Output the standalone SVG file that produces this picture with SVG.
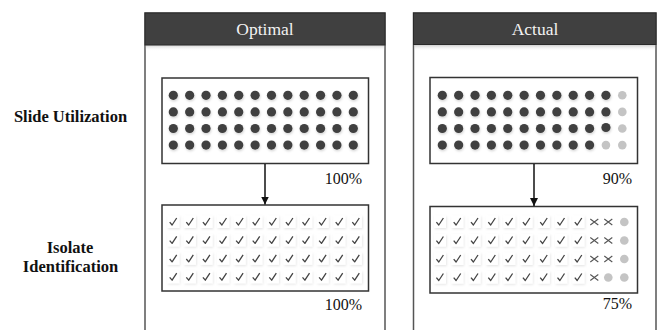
<svg xmlns="http://www.w3.org/2000/svg" width="661" height="330" viewBox="0 0 661 330" font-family="'Liberation Serif', 'Times New Roman', serif">
  <style>
    .row-label { font-family: "Liberation Serif", "Times New Roman", serif; font-size: 16.5px; font-weight: bold; fill: #111; text-anchor: middle; }
    .head { font-family: "Liberation Serif", "Times New Roman", serif; font-size: 17.5px; fill: #f2f2f2; text-anchor: middle; }
    .pct { font-family: "Liberation Serif", "Times New Roman", serif; font-size: 16px; fill: #111; text-anchor: end; }
    .panel { fill: #fff; stroke: #555; stroke-width: 1.5; }
    .bar { fill: #404040; stroke: #2a2a2a; stroke-width: 1; }
    .box { fill: #fff; stroke: #333; stroke-width: 1.5; }
    .dot { fill: #404040; }
    .dot-off { fill: #c4c4c4; }
    .conn { stroke: #111; stroke-width: 1.5; fill: none; }
  </style>
  <defs>
    <filter id="soft" x="-50%" y="-50%" width="200%" height="200%">
      <feDropShadow dx="0.6" dy="1.4" stdDeviation="1" flood-color="#000" flood-opacity="0.18"/>
    </filter>
    <filter id="tile" x="-50%" y="-50%" width="200%" height="200%">
      <feDropShadow dx="0.8" dy="1.2" stdDeviation="0.9" flood-color="#000" flood-opacity="0.1"/>
    </filter>
    <linearGradient id="barShade" x1="0" y1="0" x2="0" y2="1">
      <stop offset="0" stop-color="#bbb" stop-opacity="0.7"/>
      <stop offset="1" stop-color="#fff" stop-opacity="0"/>
    </linearGradient>
    <marker id="arrow" viewBox="0 0 10 10" refX="10" refY="5" markerWidth="8" markerHeight="8" markerUnits="userSpaceOnUse" orient="auto">
      <path d="M0,0 L10,5 L0,10 z" fill="#111"/>
    </marker>
    <g id="d"><circle r="4.6" class="dot" filter="url(#soft)"/></g>
    <g id="g"><circle r="4.3" class="dot-off"/></g>
    <g id="c">
      <rect x="-6" y="-6.5" width="12" height="12.5" fill="#fff" filter="url(#tile)"/>
      <path d="M-3.6,0.2 L-1.2,3 L3.4,-4" fill="none" stroke="#444" stroke-width="1.3" stroke-linejoin="round"/>
    </g>
    <g id="x">
      <path d="M-4,-3 L4,3 M-4,3 L4,-3" fill="none" stroke="#555" stroke-width="1.1"/>
    </g>
  </defs>

  <rect width="661" height="330" fill="#fff"/>

  <!-- row labels -->
  <g id="label-slide">
    <text class="row-label" x="70.5" y="122">Slide Utilization</text>
  </g>
  <g id="label-isolate">
    <text class="row-label" x="70" y="253">Isolate</text>
    <text class="row-label" x="70.5" y="272">Identification</text>
  </g>

  <!-- Optimal column -->
  <g id="panel-optimal">
    <rect class="panel" x="145" y="13" width="240" height="330"/>
    <rect x="145.7" y="45" width="238.6" height="6" fill="url(#barShade)"/>
    <rect class="bar" x="145" y="13" width="240" height="32"/>
    <text class="head" x="265" y="35">Optimal</text>
  </g>

  <g id="optimal-slides">
    <rect class="box" x="162" y="78" width="206.5" height="85.5"/>
    <g id="optimal-dots">
      <!-- 12 x 4 grid, all used -->
      <g transform="translate(173.3,95.3)">
        <use href="#d" x="0" y="0"/><use href="#d" x="16.36" y="0"/><use href="#d" x="32.73" y="0"/><use href="#d" x="49.09" y="0"/><use href="#d" x="65.45" y="0"/><use href="#d" x="81.82" y="0"/><use href="#d" x="98.18" y="0"/><use href="#d" x="114.55" y="0"/><use href="#d" x="130.91" y="0"/><use href="#d" x="147.27" y="0"/><use href="#d" x="163.64" y="0"/><use href="#d" x="180" y="0"/>
        <use href="#d" x="0" y="16.6"/><use href="#d" x="16.36" y="16.6"/><use href="#d" x="32.73" y="16.6"/><use href="#d" x="49.09" y="16.6"/><use href="#d" x="65.45" y="16.6"/><use href="#d" x="81.82" y="16.6"/><use href="#d" x="98.18" y="16.6"/><use href="#d" x="114.55" y="16.6"/><use href="#d" x="130.91" y="16.6"/><use href="#d" x="147.27" y="16.6"/><use href="#d" x="163.64" y="16.6"/><use href="#d" x="180" y="16.6"/>
        <use href="#d" x="0" y="33.2"/><use href="#d" x="16.36" y="33.2"/><use href="#d" x="32.73" y="33.2"/><use href="#d" x="49.09" y="33.2"/><use href="#d" x="65.45" y="33.2"/><use href="#d" x="81.82" y="33.2"/><use href="#d" x="98.18" y="33.2"/><use href="#d" x="114.55" y="33.2"/><use href="#d" x="130.91" y="33.2"/><use href="#d" x="147.27" y="33.2"/><use href="#d" x="163.64" y="33.2"/><use href="#d" x="180" y="33.2"/>
        <use href="#d" x="0" y="49.8"/><use href="#d" x="16.36" y="49.8"/><use href="#d" x="32.73" y="49.8"/><use href="#d" x="49.09" y="49.8"/><use href="#d" x="65.45" y="49.8"/><use href="#d" x="81.82" y="49.8"/><use href="#d" x="98.18" y="49.8"/><use href="#d" x="114.55" y="49.8"/><use href="#d" x="130.91" y="49.8"/><use href="#d" x="147.27" y="49.8"/><use href="#d" x="163.64" y="49.8"/><use href="#d" x="180" y="49.8"/>
      </g>
    </g>
    <text class="pct" x="362" y="184">100%</text>
  </g>

  <g id="optimal-isolates">
    <rect class="box" x="162" y="205" width="206.5" height="86"/>
    <g transform="translate(173.3,222)">
      <use href="#c" x="0" y="0"/><use href="#c" x="16.6" y="0"/><use href="#c" x="33.2" y="0"/><use href="#c" x="49.8" y="0"/><use href="#c" x="66.4" y="0"/><use href="#c" x="83" y="0"/><use href="#c" x="99.6" y="0"/><use href="#c" x="116.2" y="0"/><use href="#c" x="132.8" y="0"/><use href="#c" x="149.4" y="0"/><use href="#c" x="166" y="0"/><use href="#c" x="182.6" y="0"/>
      <use href="#c" x="0" y="18.4"/><use href="#c" x="16.6" y="18.4"/><use href="#c" x="33.2" y="18.4"/><use href="#c" x="49.8" y="18.4"/><use href="#c" x="66.4" y="18.4"/><use href="#c" x="83" y="18.4"/><use href="#c" x="99.6" y="18.4"/><use href="#c" x="116.2" y="18.4"/><use href="#c" x="132.8" y="18.4"/><use href="#c" x="149.4" y="18.4"/><use href="#c" x="166" y="18.4"/><use href="#c" x="182.6" y="18.4"/>
      <use href="#c" x="0" y="36.8"/><use href="#c" x="16.6" y="36.8"/><use href="#c" x="33.2" y="36.8"/><use href="#c" x="49.8" y="36.8"/><use href="#c" x="66.4" y="36.8"/><use href="#c" x="83" y="36.8"/><use href="#c" x="99.6" y="36.8"/><use href="#c" x="116.2" y="36.8"/><use href="#c" x="132.8" y="36.8"/><use href="#c" x="149.4" y="36.8"/><use href="#c" x="166" y="36.8"/><use href="#c" x="182.6" y="36.8"/>
      <use href="#c" x="0" y="55.2"/><use href="#c" x="16.6" y="55.2"/><use href="#c" x="33.2" y="55.2"/><use href="#c" x="49.8" y="55.2"/><use href="#c" x="66.4" y="55.2"/><use href="#c" x="83" y="55.2"/><use href="#c" x="99.6" y="55.2"/><use href="#c" x="116.2" y="55.2"/><use href="#c" x="132.8" y="55.2"/><use href="#c" x="149.4" y="55.2"/><use href="#c" x="166" y="55.2"/><use href="#c" x="182.6" y="55.2"/>
    </g>
    <text class="pct" x="362" y="310">100%</text>
  </g>

  <!-- Actual column -->
  <g id="panel-actual">
    <rect class="panel" x="413.5" y="13" width="242.5" height="330"/>
    <rect x="414.2" y="45" width="241" height="6" fill="url(#barShade)"/>
    <rect class="bar" x="413.5" y="13" width="242.5" height="31.5"/>
    <text class="head" x="535" y="35">Actual</text>
  </g>

  <g id="actual-slides">
    <rect class="box" x="430" y="77.5" width="207.5" height="86"/>
    <g transform="translate(442.3,95.3)">
      <use href="#d" x="0" y="0"/><use href="#d" x="16.36" y="0"/><use href="#d" x="32.73" y="0"/><use href="#d" x="49.09" y="0"/><use href="#d" x="65.45" y="0"/><use href="#d" x="81.82" y="0"/><use href="#d" x="98.18" y="0"/><use href="#d" x="114.55" y="0"/><use href="#d" x="130.91" y="0"/><use href="#d" x="147.27" y="0"/><use href="#d" x="163.64" y="0"/><use href="#g" x="180" y="0"/>
      <use href="#d" x="0" y="16.6"/><use href="#d" x="16.36" y="16.6"/><use href="#d" x="32.73" y="16.6"/><use href="#d" x="49.09" y="16.6"/><use href="#d" x="65.45" y="16.6"/><use href="#d" x="81.82" y="16.6"/><use href="#d" x="98.18" y="16.6"/><use href="#d" x="114.55" y="16.6"/><use href="#d" x="130.91" y="16.6"/><use href="#d" x="147.27" y="16.6"/><use href="#d" x="163.64" y="16.6"/><use href="#g" x="180" y="16.6"/>
      <use href="#d" x="0" y="33.2"/><use href="#d" x="16.36" y="33.2"/><use href="#d" x="32.73" y="33.2"/><use href="#d" x="49.09" y="33.2"/><use href="#d" x="65.45" y="33.2"/><use href="#d" x="81.82" y="33.2"/><use href="#d" x="98.18" y="33.2"/><use href="#d" x="114.55" y="33.2"/><use href="#d" x="130.91" y="33.2"/><use href="#d" x="147.27" y="33.2"/><use href="#d" x="163.64" y="32.2"/><use href="#g" x="180" y="33.2"/>
      <use href="#d" x="0" y="49.8"/><use href="#d" x="16.36" y="49.8"/><use href="#d" x="32.73" y="49.8"/><use href="#d" x="49.09" y="49.8"/><use href="#d" x="65.45" y="49.8"/><use href="#d" x="81.82" y="49.8"/><use href="#d" x="98.18" y="49.8"/><use href="#d" x="114.55" y="49.8"/><use href="#d" x="130.91" y="49.8"/><use href="#d" x="147.27" y="49.8"/><use href="#g" x="163.64" y="49.8"/><use href="#g" x="180" y="49.8"/>
    </g>
    <text class="pct" x="632" y="184">90%</text>
  </g>

  <g id="actual-isolates">
    <rect class="box" x="430" y="206.5" width="207.5" height="86.5"/>
    <g transform="translate(440,222)">
      <use href="#c" x="0" y="0"/><use href="#c" x="17.3" y="0"/><use href="#c" x="34.6" y="0"/><use href="#c" x="51.9" y="0"/><use href="#c" x="69.2" y="0"/><use href="#c" x="86.5" y="0"/><use href="#c" x="103.8" y="0"/><use href="#c" x="121.1" y="0"/><use href="#c" x="138.4" y="0"/><use href="#x" x="154.3" y="0"/><use href="#x" x="168.3" y="0"/><use href="#g" x="184.3" y="0"/>
      <use href="#c" x="0" y="18.5"/><use href="#c" x="17.3" y="18.5"/><use href="#c" x="34.6" y="18.5"/><use href="#c" x="51.9" y="18.5"/><use href="#c" x="69.2" y="18.5"/><use href="#c" x="86.5" y="18.5"/><use href="#c" x="103.8" y="18.5"/><use href="#c" x="121.1" y="18.5"/><use href="#c" x="138.4" y="18.5"/><use href="#x" x="154.3" y="18.5"/><use href="#x" x="168.3" y="18.5"/><use href="#g" x="184.3" y="18.5"/>
      <use href="#c" x="0" y="37"/><use href="#c" x="17.3" y="37"/><use href="#c" x="34.6" y="37"/><use href="#c" x="51.9" y="37"/><use href="#c" x="69.2" y="37"/><use href="#c" x="86.5" y="37"/><use href="#c" x="103.8" y="37"/><use href="#c" x="121.1" y="37"/><use href="#c" x="138.4" y="37"/><use href="#x" x="154.3" y="37"/><use href="#x" x="168.3" y="37"/><use href="#g" x="184.3" y="37"/>
      <use href="#c" x="0" y="55.5"/><use href="#c" x="17.3" y="55.5"/><use href="#c" x="34.6" y="55.5"/><use href="#c" x="51.9" y="55.5"/><use href="#c" x="69.2" y="55.5"/><use href="#c" x="86.5" y="55.5"/><use href="#c" x="103.8" y="55.5"/><use href="#c" x="121.1" y="55.5"/><use href="#c" x="138.4" y="55.5"/><use href="#x" x="154.3" y="55.5"/><use href="#g" x="168.3" y="55.5"/><use href="#g" x="184.3" y="55.5"/>
    </g>
    <text class="pct" x="632" y="309">75%</text>
  </g>

  <!-- connectors -->
  <g id="connectors">
    <line class="conn" x1="265" y1="164" x2="265" y2="204.5" marker-end="url(#arrow)"/>
    <line class="conn" x1="534" y1="164" x2="534" y2="206" marker-end="url(#arrow)"/>
  </g>
</svg>
